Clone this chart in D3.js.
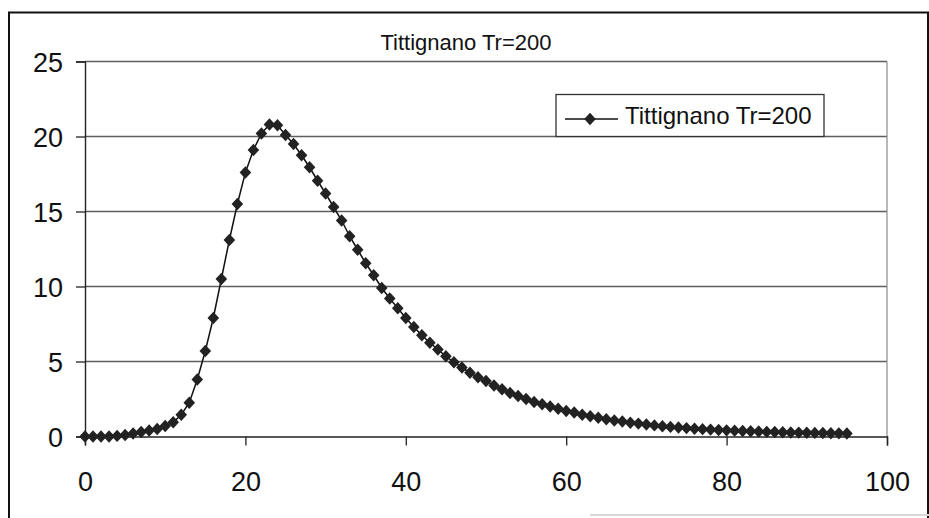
<!DOCTYPE html>
<html>
<head>
<meta charset="utf-8">
<script src="https://cdn.jsdelivr.net/npm/d3@7"></script>
<style>
  html, body { margin: 0; padding: 0; background: #fff; }
  svg { display: block; font-family: Arial, "Liberation Sans", sans-serif; }
</style>
</head>
<body>
<svg id="chart" width="929" height="518"></svg>
<script>
// Hydrograph, Tittignano, return period 200 years
const chartTitle = "Tittignano Tr=200";
const seriesName = "Tittignano Tr=200";

// time steps (x) and discharge values (y)
const times = d3.range(0, 96);
const discharge = [
  0, 0, 0, 0, 0.04, 0.1, 0.2, 0.3, 0.4, 0.5,
  0.7, 0.95, 1.45, 2.25, 3.8, 5.7, 7.9, 10.5, 13.1, 15.5,
  17.6, 19.1, 20.2, 20.8, 20.75, 20.1, 19.5, 18.75, 17.95, 17.05,
  16.2, 15.3, 14.4, 13.35, 12.45, 11.55, 10.75, 9.9, 9.2, 8.55,
  7.9, 7.3, 6.75, 6.25, 5.8, 5.35, 4.95, 4.6, 4.25, 3.95,
  3.7, 3.4, 3.15, 2.9, 2.7, 2.5, 2.3, 2.15, 2.0, 1.85,
  1.7, 1.6, 1.45, 1.35, 1.25, 1.15, 1.07, 1.0, 0.92, 0.86,
  0.8, 0.74, 0.68, 0.64, 0.6, 0.56, 0.52, 0.49, 0.46, 0.43,
  0.41, 0.39, 0.37, 0.35, 0.33, 0.31, 0.3, 0.28, 0.27, 0.26,
  0.25, 0.24, 0.23, 0.22, 0.21, 0.2
];

const xTicks = [0, 20, 40, 60, 80, 100];
const yTicks = [0, 5, 10, 15, 20, 25];

const points = times.map((t, i) => ({ t, q: discharge[i] }));

const svg = d3.select("#chart");

// outer frame of the figure
svg.append("path")
  .attr("d", "M9,518 L9,12.5 L928,12.5 L928,518")
  .attr("fill", "none")
  .attr("stroke", "#111")
  .attr("stroke-width", 2);
svg.append("line")
  .attr("x1", 590).attr("x2", 929).attr("y1", 515).attr("y2", 515)
  .attr("stroke", "#d8d8d8").attr("stroke-width", 2);

const plot = { left: 85, right: 887, top: 61.5, bottom: 436.5 };

const x = d3.scaleLinear().domain([0, 100]).range([plot.left, plot.right]);
const y = d3.scaleLinear().domain([0, 25]).range([plot.bottom, plot.top]);

// horizontal gridlines
svg.append("g")
  .selectAll("line")
  .data(yTicks.filter(d => d > 0))
  .join("line")
  .attr("x1", plot.left).attr("x2", plot.right)
  .attr("y1", d => y(d)).attr("y2", d => y(d))
  .attr("stroke", "#5e5e5e")
  .attr("stroke-width", 1.4);

// plot-area right edge
svg.append("line")
  .attr("x1", plot.right).attr("x2", plot.right)
  .attr("y1", plot.top).attr("y2", plot.bottom)
  .attr("stroke", "#8a8a8a").attr("stroke-width", 1.2);

// axes
const xAxis = d3.axisBottom(x).tickValues(xTicks).tickSize(9).tickPadding(26).tickFormat(d3.format("d"));
const yAxis = d3.axisLeft(y).tickValues(yTicks).tickSize(9).tickPadding(13).tickFormat(d3.format("d"));

const gx = svg.append("g").attr("transform", `translate(0,${plot.bottom})`).call(xAxis);
const gy = svg.append("g").attr("transform", `translate(${plot.left},0)`).call(yAxis);

[gx, gy].forEach(g => {
  g.select(".domain").attr("stroke", "#222").attr("stroke-width", 1.4);
  g.selectAll(".tick line").attr("stroke", "#222").attr("stroke-width", 1.3);
  g.selectAll(".tick text")
    .attr("fill", "#111")
    .style("font-size", "27px")
    .style("font-family", "Arial, 'Liberation Sans', sans-serif");
});
gx.selectAll(".tick text").attr("dy", "0.71em");
gy.selectAll(".tick text").attr("dy", "0.36em");

// title
svg.append("text")
  .attr("x", 466).attr("y", 50)
  .attr("text-anchor", "middle")
  .attr("fill", "#111")
  .style("font-size", "22px")
  .text(chartTitle);

// series line
const line = d3.line().x(d => x(d.t)).y(d => y(d.q));
svg.append("path")
  .datum(points)
  .attr("d", line)
  .attr("fill", "none")
  .attr("stroke", "#111")
  .attr("stroke-width", 1.5);

// diamond markers
const diamond = "M0,-6.2 L5.8,0 L0,6.2 L-5.8,0 Z";
svg.append("g")
  .selectAll("path")
  .data(points)
  .join("path")
  .attr("transform", d => `translate(${x(d.t)},${y(d.q)})`)
  .attr("d", diamond)
  .attr("fill", "#222");

// legend
const legend = svg.append("g").attr("transform", "translate(556,94.5)");
legend.append("rect")
  .attr("width", 268).attr("height", 42)
  .attr("fill", "#fff")
  .attr("stroke", "#333").attr("stroke-width", 1.3);
legend.append("line")
  .attr("x1", 9).attr("x2", 62).attr("y1", 24.5).attr("y2", 24.5)
  .attr("stroke", "#111").attr("stroke-width", 1.5);
legend.append("path")
  .attr("transform", "translate(34,24.5)")
  .attr("d", diamond)
  .attr("fill", "#222");
legend.append("text")
  .attr("x", 69).attr("y", 29)
  .attr("fill", "#111")
  .style("font-size", "24px")
  .text(seriesName);
</script>
</body>
</html>
